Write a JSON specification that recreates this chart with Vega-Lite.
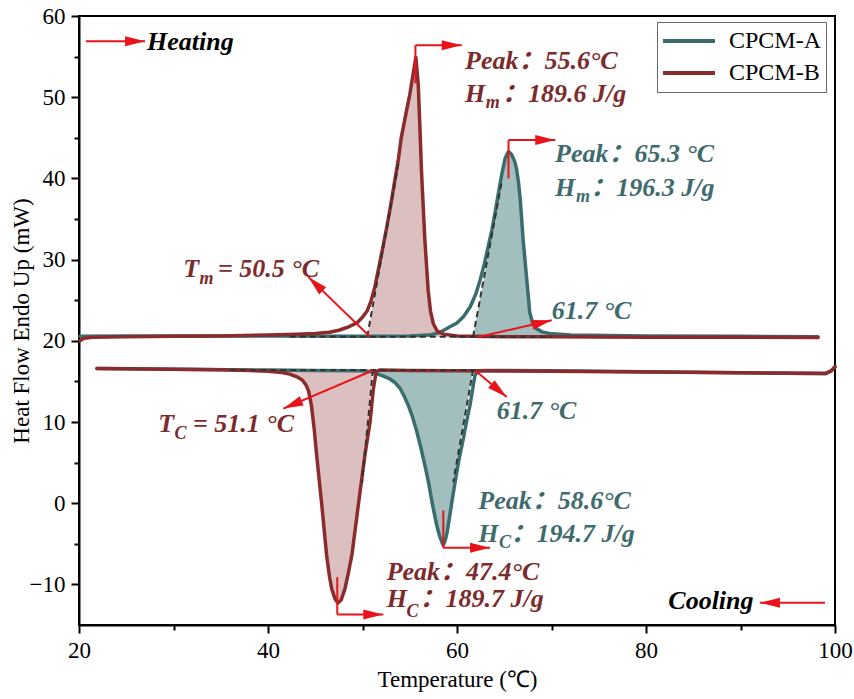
{
  "$schema": "https://vega.github.io/schema/vega-lite/v6.json",
  "width": 756,
  "height": 609,
  "autosize": {"type": "none"},
  "padding": {"left": 79, "top": 16, "right": 19, "bottom": 74},
  "background": "white",
  "config": {
    "view": {"stroke": "black", "strokeWidth": 2},
    "axis": {
      "domainColor": "black", "domainWidth": 2, "tickColor": "black", "tickWidth": 2,
      "labelFont": "Liberation Serif", "labelFontSize": 23, "labelColor": "black",
      "titleFont": "Liberation Serif", "titleFontSize": 23, "titleFontWeight": "normal", "titleColor": "black",
      "grid": false, "labelOverlap": false, "labelFlush": false
    }
  },
  "datasets": {
    "curves": [
      {"s":"CPCM-A","p":"h","x":20.1,"y":20.55},{"s":"CPCM-A","p":"h","x":25,"y":20.6},{"s":"CPCM-A","p":"h","x":30,"y":20.6},{"s":"CPCM-A","p":"h","x":40,"y":20.6},{"s":"CPCM-A","p":"h","x":50,"y":20.55},{"s":"CPCM-A","p":"h","x":55,"y":20.6},{"s":"CPCM-A","p":"h","x":57,"y":20.7},{"s":"CPCM-A","p":"h","x":58,"y":20.95},{"s":"CPCM-A","p":"h","x":58.6,"y":21.3},{"s":"CPCM-A","p":"h","x":59.3,"y":21.75},{"s":"CPCM-A","p":"h","x":60.0,"y":22.2},{"s":"CPCM-A","p":"h","x":60.7,"y":23.0},{"s":"CPCM-A","p":"h","x":61.4,"y":24.2},{"s":"CPCM-A","p":"h","x":62.0,"y":25.8},{"s":"CPCM-A","p":"h","x":62.45,"y":27.5},{"s":"CPCM-A","p":"h","x":62.9,"y":29.5},{"s":"CPCM-A","p":"h","x":63.3,"y":31.6},{"s":"CPCM-A","p":"h","x":63.7,"y":33.7},{"s":"CPCM-A","p":"h","x":64.0,"y":35.6},{"s":"CPCM-A","p":"h","x":64.4,"y":38.3},{"s":"CPCM-A","p":"h","x":64.75,"y":40.6},{"s":"CPCM-A","p":"h","x":65.1,"y":42.5},{"s":"CPCM-A","p":"h","x":65.45,"y":43.3},{"s":"CPCM-A","p":"h","x":65.8,"y":42.9},{"s":"CPCM-A","p":"h","x":66.1,"y":42.1},{"s":"CPCM-A","p":"h","x":66.3,"y":41.2},{"s":"CPCM-A","p":"h","x":66.5,"y":39.6},{"s":"CPCM-A","p":"h","x":66.7,"y":37.3},{"s":"CPCM-A","p":"h","x":67.0,"y":32.4},{"s":"CPCM-A","p":"h","x":67.4,"y":27.3},{"s":"CPCM-A","p":"h","x":67.7,"y":23.5},{"s":"CPCM-A","p":"h","x":68.0,"y":22.2},{"s":"CPCM-A","p":"h","x":68.4,"y":21.5},{"s":"CPCM-A","p":"h","x":69.0,"y":21.1},{"s":"CPCM-A","p":"h","x":69.8,"y":20.9},{"s":"CPCM-A","p":"h","x":72,"y":20.7},{"s":"CPCM-A","p":"h","x":80,"y":20.6},{"s":"CPCM-A","p":"h","x":90,"y":20.55},{"s":"CPCM-A","p":"h","x":98.2,"y":20.5},
      {"s":"CPCM-A","p":"c","x":21.9,"y":16.6},{"s":"CPCM-A","p":"c","x":30,"y":16.5},{"s":"CPCM-A","p":"c","x":40,"y":16.4},{"s":"CPCM-A","p":"c","x":45,"y":16.35},{"s":"CPCM-A","p":"c","x":50,"y":16.3},{"s":"CPCM-A","p":"c","x":51.0,"y":16.2},{"s":"CPCM-A","p":"c","x":51.5,"y":15.95},{"s":"CPCM-A","p":"c","x":52.2,"y":15.65},{"s":"CPCM-A","p":"c","x":52.9,"y":15.3},{"s":"CPCM-A","p":"c","x":53.5,"y":14.8},{"s":"CPCM-A","p":"c","x":54.0,"y":14.1},{"s":"CPCM-A","p":"c","x":54.4,"y":13.2},{"s":"CPCM-A","p":"c","x":54.85,"y":12.05},{"s":"CPCM-A","p":"c","x":55.3,"y":10.6},{"s":"CPCM-A","p":"c","x":55.75,"y":8.8},{"s":"CPCM-A","p":"c","x":56.2,"y":6.7},{"s":"CPCM-A","p":"c","x":56.6,"y":4.7},{"s":"CPCM-A","p":"c","x":57.0,"y":2.5},{"s":"CPCM-A","p":"c","x":57.3,"y":0.5},{"s":"CPCM-A","p":"c","x":57.6,"y":-1.3},{"s":"CPCM-A","p":"c","x":57.85,"y":-2.7},{"s":"CPCM-A","p":"c","x":58.15,"y":-4.0},{"s":"CPCM-A","p":"c","x":58.4,"y":-4.8},{"s":"CPCM-A","p":"c","x":58.55,"y":-5.2},{"s":"CPCM-A","p":"c","x":58.75,"y":-4.6},{"s":"CPCM-A","p":"c","x":58.97,"y":-3.5},{"s":"CPCM-A","p":"c","x":59.2,"y":-1.8},{"s":"CPCM-A","p":"c","x":59.45,"y":0.1},{"s":"CPCM-A","p":"c","x":59.7,"y":1.9},{"s":"CPCM-A","p":"c","x":59.97,"y":3.8},{"s":"CPCM-A","p":"c","x":60.3,"y":5.9},{"s":"CPCM-A","p":"c","x":60.67,"y":7.95},{"s":"CPCM-A","p":"c","x":61.0,"y":10.0},{"s":"CPCM-A","p":"c","x":61.37,"y":12.05},{"s":"CPCM-A","p":"c","x":61.65,"y":14.0},{"s":"CPCM-A","p":"c","x":61.9,"y":15.75},{"s":"CPCM-A","p":"c","x":62.25,"y":16.3},{"s":"CPCM-A","p":"c","x":63,"y":16.35},{"s":"CPCM-A","p":"c","x":70,"y":16.3},{"s":"CPCM-A","p":"c","x":80,"y":16.2},{"s":"CPCM-A","p":"c","x":90,"y":16.05},{"s":"CPCM-A","p":"c","x":99,"y":15.95},{"s":"CPCM-A","p":"c","x":99.6,"y":16.3},{"s":"CPCM-A","p":"c","x":100,"y":16.8},
      {"s":"CPCM-B","p":"h","x":20.1,"y":20.0},{"s":"CPCM-B","p":"h","x":20.5,"y":20.3},{"s":"CPCM-B","p":"h","x":21.5,"y":20.45},{"s":"CPCM-B","p":"h","x":25,"y":20.5},{"s":"CPCM-B","p":"h","x":30,"y":20.55},{"s":"CPCM-B","p":"h","x":35,"y":20.6},{"s":"CPCM-B","p":"h","x":40,"y":20.7},{"s":"CPCM-B","p":"h","x":43,"y":20.8},{"s":"CPCM-B","p":"h","x":45,"y":20.9},{"s":"CPCM-B","p":"h","x":46.5,"y":21.05},{"s":"CPCM-B","p":"h","x":47.5,"y":21.3},{"s":"CPCM-B","p":"h","x":48.5,"y":21.7},{"s":"CPCM-B","p":"h","x":49.4,"y":22.2},{"s":"CPCM-B","p":"h","x":50.0,"y":22.9},{"s":"CPCM-B","p":"h","x":50.5,"y":23.7},{"s":"CPCM-B","p":"h","x":50.9,"y":24.9},{"s":"CPCM-B","p":"h","x":51.3,"y":26.6},{"s":"CPCM-B","p":"h","x":51.7,"y":28.9},{"s":"CPCM-B","p":"h","x":52.1,"y":31.2},{"s":"CPCM-B","p":"h","x":52.6,"y":34.2},{"s":"CPCM-B","p":"h","x":53.0,"y":36.8},{"s":"CPCM-B","p":"h","x":53.4,"y":39.6},{"s":"CPCM-B","p":"h","x":53.8,"y":42.4},{"s":"CPCM-B","p":"h","x":54.1,"y":45.0},{"s":"CPCM-B","p":"h","x":54.6,"y":48.0},{"s":"CPCM-B","p":"h","x":55.0,"y":50.3},{"s":"CPCM-B","p":"h","x":55.35,"y":52.8},{"s":"CPCM-B","p":"h","x":55.65,"y":54.9},{"s":"CPCM-B","p":"h","x":55.9,"y":51.5},{"s":"CPCM-B","p":"h","x":56.1,"y":45.5},{"s":"CPCM-B","p":"h","x":56.25,"y":40.7},{"s":"CPCM-B","p":"h","x":56.6,"y":32.4},{"s":"CPCM-B","p":"h","x":56.95,"y":26.2},{"s":"CPCM-B","p":"h","x":57.2,"y":23.6},{"s":"CPCM-B","p":"h","x":57.5,"y":22.1},{"s":"CPCM-B","p":"h","x":57.9,"y":21.2},{"s":"CPCM-B","p":"h","x":58.6,"y":20.8},{"s":"CPCM-B","p":"h","x":60,"y":20.6},{"s":"CPCM-B","p":"h","x":65,"y":20.5},{"s":"CPCM-B","p":"h","x":70,"y":20.5},{"s":"CPCM-B","p":"h","x":80,"y":20.45},{"s":"CPCM-B","p":"h","x":90,"y":20.45},{"s":"CPCM-B","p":"h","x":98.2,"y":20.4},
      {"s":"CPCM-B","p":"c","x":21.9,"y":16.6},{"s":"CPCM-B","p":"c","x":25,"y":16.55},{"s":"CPCM-B","p":"c","x":30,"y":16.5},{"s":"CPCM-B","p":"c","x":35,"y":16.45},{"s":"CPCM-B","p":"c","x":38,"y":16.35},{"s":"CPCM-B","p":"c","x":40,"y":16.25},{"s":"CPCM-B","p":"c","x":41.5,"y":16.1},{"s":"CPCM-B","p":"c","x":42.3,"y":15.9},{"s":"CPCM-B","p":"c","x":43.0,"y":15.6},{"s":"CPCM-B","p":"c","x":43.6,"y":15.2},{"s":"CPCM-B","p":"c","x":44.0,"y":14.6},{"s":"CPCM-B","p":"c","x":44.3,"y":13.8},{"s":"CPCM-B","p":"c","x":44.6,"y":12.0},{"s":"CPCM-B","p":"c","x":44.9,"y":9.0},{"s":"CPCM-B","p":"c","x":45.15,"y":5.9},{"s":"CPCM-B","p":"c","x":45.7,"y":-0.3},{"s":"CPCM-B","p":"c","x":46.2,"y":-6.4},{"s":"CPCM-B","p":"c","x":46.5,"y":-9.0},{"s":"CPCM-B","p":"c","x":46.75,"y":-10.6},{"s":"CPCM-B","p":"c","x":47.1,"y":-11.8},{"s":"CPCM-B","p":"c","x":47.4,"y":-12.3},{"s":"CPCM-B","p":"c","x":47.75,"y":-11.9},{"s":"CPCM-B","p":"c","x":48.15,"y":-10.5},{"s":"CPCM-B","p":"c","x":48.5,"y":-8.6},{"s":"CPCM-B","p":"c","x":48.9,"y":-6.2},{"s":"CPCM-B","p":"c","x":49.55,"y":-0.3},{"s":"CPCM-B","p":"c","x":50.25,"y":5.9},{"s":"CPCM-B","p":"c","x":50.8,"y":10.0},{"s":"CPCM-B","p":"c","x":51.15,"y":14.1},{"s":"CPCM-B","p":"c","x":51.45,"y":16.2},{"s":"CPCM-B","p":"c","x":51.8,"y":16.4},{"s":"CPCM-B","p":"c","x":55,"y":16.35},{"s":"CPCM-B","p":"c","x":60,"y":16.3},{"s":"CPCM-B","p":"c","x":70,"y":16.25},{"s":"CPCM-B","p":"c","x":80,"y":16.15},{"s":"CPCM-B","p":"c","x":90,"y":16.05},{"s":"CPCM-B","p":"c","x":99,"y":16.0},{"s":"CPCM-B","p":"c","x":99.6,"y":16.3},{"s":"CPCM-B","p":"c","x":100,"y":16.8}
    ],
    "fills": [
      {"s":"CPCM-B","p":"h","x":50.5,"lo":20.5,"hi":20.5},{"s":"CPCM-B","p":"h","x":51.0,"lo":20.5,"hi":23.7},{"s":"CPCM-B","p":"h","x":51.5,"lo":20.5,"hi":26.9},{"s":"CPCM-B","p":"h","x":52.0,"lo":20.5,"hi":30.2},{"s":"CPCM-B","p":"h","x":52.5,"lo":20.5,"hi":33.4},{"s":"CPCM-B","p":"h","x":53.0,"lo":20.5,"hi":36.6},{"s":"CPCM-B","p":"h","x":53.4,"lo":20.5,"hi":39.2},{"s":"CPCM-B","p":"h","x":53.8,"lo":20.5,"hi":41.8},{"s":"CPCM-B","p":"h","x":54.1,"lo":20.5,"hi":45.0},{"s":"CPCM-B","p":"h","x":54.6,"lo":20.5,"hi":48.0},{"s":"CPCM-B","p":"h","x":55.0,"lo":20.5,"hi":50.3},{"s":"CPCM-B","p":"h","x":55.35,"lo":20.5,"hi":52.8},{"s":"CPCM-B","p":"h","x":55.65,"lo":20.5,"hi":54.9},{"s":"CPCM-B","p":"h","x":55.9,"lo":20.5,"hi":51.5},{"s":"CPCM-B","p":"h","x":56.1,"lo":20.5,"hi":45.5},{"s":"CPCM-B","p":"h","x":56.25,"lo":20.5,"hi":40.7},{"s":"CPCM-B","p":"h","x":56.6,"lo":20.5,"hi":32.4},{"s":"CPCM-B","p":"h","x":56.95,"lo":20.5,"hi":26.2},{"s":"CPCM-B","p":"h","x":57.2,"lo":20.5,"hi":23.6},{"s":"CPCM-B","p":"h","x":57.5,"lo":20.5,"hi":22.1},{"s":"CPCM-B","p":"h","x":57.9,"lo":20.5,"hi":21.2},{"s":"CPCM-B","p":"h","x":58.6,"lo":20.5,"hi":20.8},
      {"s":"CPCM-A","p":"h","x":61.7,"lo":20.5,"hi":20.5},{"s":"CPCM-A","p":"h","x":62.2,"lo":20.5,"hi":23.65},{"s":"CPCM-A","p":"h","x":62.7,"lo":20.5,"hi":26.8},{"s":"CPCM-A","p":"h","x":63.2,"lo":20.5,"hi":29.95},{"s":"CPCM-A","p":"h","x":63.7,"lo":20.5,"hi":33.1},{"s":"CPCM-A","p":"h","x":64.2,"lo":20.5,"hi":36.25},{"s":"CPCM-A","p":"h","x":64.7,"lo":20.5,"hi":39.4},{"s":"CPCM-A","p":"h","x":65.1,"lo":20.5,"hi":42.5},{"s":"CPCM-A","p":"h","x":65.45,"lo":20.5,"hi":43.3},{"s":"CPCM-A","p":"h","x":65.8,"lo":20.5,"hi":42.9},{"s":"CPCM-A","p":"h","x":66.1,"lo":20.5,"hi":42.1},{"s":"CPCM-A","p":"h","x":66.3,"lo":20.5,"hi":41.2},{"s":"CPCM-A","p":"h","x":66.5,"lo":20.5,"hi":39.6},{"s":"CPCM-A","p":"h","x":66.7,"lo":20.5,"hi":37.3},{"s":"CPCM-A","p":"h","x":67.0,"lo":20.5,"hi":32.4},{"s":"CPCM-A","p":"h","x":67.4,"lo":20.5,"hi":27.3},{"s":"CPCM-A","p":"h","x":67.7,"lo":20.5,"hi":23.5},{"s":"CPCM-A","p":"h","x":68.0,"lo":20.5,"hi":22.2},{"s":"CPCM-A","p":"h","x":68.4,"lo":20.5,"hi":21.5},{"s":"CPCM-A","p":"h","x":69.0,"lo":20.5,"hi":21.1},{"s":"CPCM-A","p":"h","x":69.8,"lo":20.5,"hi":20.9},
      {"s":"CPCM-B","p":"c","x":42.3,"lo":15.9,"hi":16.4},{"s":"CPCM-B","p":"c","x":43.0,"lo":15.6,"hi":16.4},{"s":"CPCM-B","p":"c","x":43.6,"lo":15.2,"hi":16.4},{"s":"CPCM-B","p":"c","x":44.0,"lo":14.6,"hi":16.4},{"s":"CPCM-B","p":"c","x":44.3,"lo":13.8,"hi":16.4},{"s":"CPCM-B","p":"c","x":44.6,"lo":12.0,"hi":16.4},{"s":"CPCM-B","p":"c","x":44.9,"lo":9.0,"hi":16.4},{"s":"CPCM-B","p":"c","x":45.15,"lo":5.9,"hi":16.4},{"s":"CPCM-B","p":"c","x":45.7,"lo":-0.3,"hi":16.4},{"s":"CPCM-B","p":"c","x":46.2,"lo":-6.4,"hi":16.4},{"s":"CPCM-B","p":"c","x":46.5,"lo":-9.0,"hi":16.4},{"s":"CPCM-B","p":"c","x":46.75,"lo":-10.6,"hi":16.4},{"s":"CPCM-B","p":"c","x":47.1,"lo":-11.8,"hi":16.4},{"s":"CPCM-B","p":"c","x":47.4,"lo":-12.3,"hi":16.4},{"s":"CPCM-B","p":"c","x":47.75,"lo":-11.9,"hi":16.4},{"s":"CPCM-B","p":"c","x":48.15,"lo":-10.5,"hi":16.4},{"s":"CPCM-B","p":"c","x":48.5,"lo":-8.6,"hi":16.4},{"s":"CPCM-B","p":"c","x":48.9,"lo":-6.2,"hi":16.4},{"s":"CPCM-B","p":"c","x":49.55,"lo":-0.3,"hi":16.4},{"s":"CPCM-B","p":"c","x":49.95,"lo":3.1,"hi":16.4},{"s":"CPCM-B","p":"c","x":50.25,"lo":6.3,"hi":16.4},{"s":"CPCM-B","p":"c","x":50.5,"lo":9.15,"hi":16.4},{"s":"CPCM-B","p":"c","x":50.8,"lo":12.8,"hi":16.4},{"s":"CPCM-B","p":"c","x":51.1,"lo":16.4,"hi":16.4},
      {"s":"CPCM-A","p":"c","x":51.3,"lo":16.1,"hi":16.4},{"s":"CPCM-A","p":"c","x":51.5,"lo":15.95,"hi":16.4},{"s":"CPCM-A","p":"c","x":52.2,"lo":15.65,"hi":16.4},{"s":"CPCM-A","p":"c","x":52.9,"lo":15.3,"hi":16.4},{"s":"CPCM-A","p":"c","x":53.5,"lo":14.8,"hi":16.4},{"s":"CPCM-A","p":"c","x":54.0,"lo":14.1,"hi":16.4},{"s":"CPCM-A","p":"c","x":54.4,"lo":13.2,"hi":16.4},{"s":"CPCM-A","p":"c","x":54.85,"lo":12.05,"hi":16.4},{"s":"CPCM-A","p":"c","x":55.3,"lo":10.6,"hi":16.4},{"s":"CPCM-A","p":"c","x":55.75,"lo":8.8,"hi":16.4},{"s":"CPCM-A","p":"c","x":56.2,"lo":6.7,"hi":16.4},{"s":"CPCM-A","p":"c","x":56.6,"lo":4.7,"hi":16.4},{"s":"CPCM-A","p":"c","x":57.0,"lo":2.5,"hi":16.4},{"s":"CPCM-A","p":"c","x":57.3,"lo":0.5,"hi":16.4},{"s":"CPCM-A","p":"c","x":57.6,"lo":-1.3,"hi":16.4},{"s":"CPCM-A","p":"c","x":57.85,"lo":-2.7,"hi":16.4},{"s":"CPCM-A","p":"c","x":58.15,"lo":-4.0,"hi":16.4},{"s":"CPCM-A","p":"c","x":58.4,"lo":-4.8,"hi":16.4},{"s":"CPCM-A","p":"c","x":58.55,"lo":-5.2,"hi":16.4},{"s":"CPCM-A","p":"c","x":58.75,"lo":-4.6,"hi":16.4},{"s":"CPCM-A","p":"c","x":58.97,"lo":-3.5,"hi":16.4},{"s":"CPCM-A","p":"c","x":59.2,"lo":-1.8,"hi":16.4},{"s":"CPCM-A","p":"c","x":59.45,"lo":0.1,"hi":16.4},{"s":"CPCM-A","p":"c","x":59.6,"lo":2.6,"hi":16.4},{"s":"CPCM-A","p":"c","x":60.0,"lo":5.2,"hi":16.4},{"s":"CPCM-A","p":"c","x":60.5,"lo":8.5,"hi":16.4},{"s":"CPCM-A","p":"c","x":61.0,"lo":11.8,"hi":16.4},{"s":"CPCM-A","p":"c","x":61.4,"lo":14.4,"hi":16.4},{"s":"CPCM-A","p":"c","x":61.7,"lo":16.4,"hi":16.4}
    ],
    "dashes": [
      {"x":42.3,"y":20.5,"x2":70,"y2":20.5},
      {"x":36,"y":16.4,"x2":62.3,"y2":16.4},
      {"x":50.5,"y":20.5,"x2":53.8,"y2":41.8},
      {"x":61.7,"y":20.5,"x2":64.7,"y2":39.4},
      {"x":51.1,"y":16.4,"x2":49.95,"y2":2.5},
      {"x":61.7,"y":16.4,"x2":59.6,"y2":2.6}
    ],
    "arrows": [
      {"id":"heat","x":20.74,"y":56.9,"x2":27.0,"y2":56.9,"head":true},
      {"id":"pkBh","x":55.6,"y":51.7,"x2":55.6,"y2":56.4,"head":false},
      {"id":"pkBh","x":55.6,"y":56.4,"x2":60.5,"y2":56.4,"head":true},
      {"id":"pkAh","x":65.45,"y":40.0,"x2":65.45,"y2":44.72,"head":false},
      {"id":"pkAh","x":65.45,"y":44.72,"x2":70.4,"y2":44.72,"head":true},
      {"id":"Tm","x":50.8,"y":20.5,"x2":44.26,"y2":27.87,"head":true},
      {"id":"A61h","x":62.26,"y":20.48,"x2":70.02,"y2":22.53,"head":true},
      {"id":"Tc","x":51.14,"y":16.37,"x2":41.62,"y2":11.65,"head":true},
      {"id":"A61c","x":61.9,"y":16.37,"x2":65.26,"y2":13.08,"head":true},
      {"id":"pkAc","x":58.55,"y":-0.88,"x2":58.55,"y2":-5.48,"head":false},
      {"id":"pkAc","x":58.55,"y":-5.48,"x2":63.5,"y2":-5.48,"head":true},
      {"id":"pkBc","x":47.33,"y":-9.1,"x2":47.33,"y2":-13.7,"head":false},
      {"id":"pkBc","x":47.33,"y":-13.7,"x2":52.2,"y2":-13.7,"head":true},
      {"id":"cool","x":98.94,"y":-12.25,"x2":92.06,"y2":-12.25,"head":true}
    ],
    "texts": [
      {"t":"Heating","x":27.2,"y":55.81,"s":"none","sub":false},
      {"t":"Cooling","x":82.36,"y":-13.0,"s":"none","sub":false},
      {"t":"Peak：55.6°C","x":60.85,"y":53.47,"s":"CPCM-B","sub":false},
      {"t":"H","x":60.85,"y":49.44,"s":"CPCM-B","sub":false},
      {"t":"m","x":63.05,"y":48.62,"s":"CPCM-B","sub":true},
      {"t":"：189.6 J/g","x":64.76,"y":49.44,"s":"CPCM-B","sub":false},
      {"t":"T","x":31.04,"y":27.87,"s":"CPCM-B","sub":false},
      {"t":"m","x":32.75,"y":27.0,"s":"CPCM-B","sub":true},
      {"t":"= 50.5 °C","x":34.71,"y":27.87,"s":"CPCM-B","sub":false},
      {"t":"T","x":28.39,"y":8.77,"s":"CPCM-B","sub":false},
      {"t":"C","x":30.1,"y":7.95,"s":"CPCM-B","sub":true},
      {"t":"= 51.1 °C","x":32.06,"y":8.77,"s":"CPCM-B","sub":false},
      {"t":"Peak：47.4°C","x":52.56,"y":-9.51,"s":"CPCM-B","sub":false},
      {"t":"H","x":52.56,"y":-12.8,"s":"CPCM-B","sub":false},
      {"t":"C","x":54.66,"y":-14.03,"s":"CPCM-B","sub":true},
      {"t":"：189.7 J/g","x":56.03,"y":-12.8,"s":"CPCM-B","sub":false},
      {"t":"Peak：65.3 °C","x":70.37,"y":42.05,"s":"CPCM-A","sub":false},
      {"t":"H","x":70.37,"y":37.85,"s":"CPCM-A","sub":false},
      {"t":"m","x":72.6,"y":37.04,"s":"CPCM-A","sub":true},
      {"t":"：196.3 J/g","x":74.1,"y":37.85,"s":"CPCM-A","sub":false},
      {"t":"61.7 °C","x":70.02,"y":22.74,"s":"CPCM-A","sub":false},
      {"t":"61.7 °C","x":64.2,"y":10.42,"s":"CPCM-A","sub":false},
      {"t":"Peak：58.6°C","x":62.25,"y":-0.67,"s":"CPCM-A","sub":false},
      {"t":"H","x":62.25,"y":-4.79,"s":"CPCM-A","sub":false},
      {"t":"C","x":64.44,"y":-5.48,"s":"CPCM-A","sub":true},
      {"t":"：194.7 J/g","x":65.66,"y":-4.79,"s":"CPCM-A","sub":false}
    ]
  },
  "encoding": {
    "x": {"type": "quantitative", "scale": {"domain": [20, 100], "nice": false, "zero": false},
      "axis": {"title": "Temperature (℃)", "values": [20,30,40,50,60,70,80,90,100],
        "labelExpr": "datum.value % 20 === 0 ? datum.label : ''",
        "tickSize": {"condition": {"test": "datum.value % 20 === 0", "value": 8}, "value": 5},
        "labelPadding": 6, "titlePadding": 6}},
    "y": {"type": "quantitative", "scale": {"domain": [-15, 60], "nice": false, "zero": false},
      "axis": {"title": "Heat Flow Endo Up (mW)", "values": [-10,-5,0,5,10,15,20,25,30,35,40,45,50,55,60],
        "labelExpr": "datum.value % 10 === 0 ? datum.label : ''",
        "tickSize": {"condition": {"test": "datum.value % 10 === 0", "value": 8}, "value": 5},
        "labelPadding": 6, "titlePadding": -4}}
  },
  "layer": [
    {"data": {"name": "fills"}, "transform": [{"filter": "datum.s === 'CPCM-B'"}],
     "mark": {"type": "area", "color": "#dcc0c0", "opacity": 1},
     "encoding": {"x": {"field": "x", "type": "quantitative"}, "y": {"field": "lo", "type": "quantitative"}, "y2": {"field": "hi"}, "detail": {"field": "p"}}},
    {"data": {"name": "fills"}, "transform": [{"filter": "datum.s === 'CPCM-A'"}],
     "mark": {"type": "area", "color": "#a3bebe", "opacity": 1},
     "encoding": {"x": {"field": "x", "type": "quantitative"}, "y": {"field": "lo", "type": "quantitative"}, "y2": {"field": "hi"}, "detail": {"field": "p"}}},
    {"data": {"name": "curves"},
     "mark": {"type": "line", "strokeWidth": 3.5, "strokeJoin": "round", "strokeCap": "round"},
     "encoding": {"x": {"field": "x", "type": "quantitative"}, "y": {"field": "y", "type": "quantitative"},
       "detail": {"field": "p"},
       "color": {"field": "s", "type": "nominal",
         "scale": {"domain": ["CPCM-A", "CPCM-B"], "range": ["#3a6d6e", "#8b2b2c"]},
         "legend": {"orient": "none", "legendX": 578, "legendY": 6, "title": null,
           "symbolType": "stroke", "symbolStrokeWidth": 4, "symbolSize": 2700, "clipHeight": 30,
           "labelFont": "Liberation Serif", "labelFontSize": 24, "labelColor": "black",
           "strokeColor": "#666", "fillColor": "white", "padding": 4, "rowPadding": 2, "labelOffset": 12}}}},
    {"data": {"name": "dashes"},
     "mark": {"type": "rule", "color": "#333333", "strokeWidth": 2, "strokeDash": [6, 4]},
     "encoding": {"x": {"field": "x", "type": "quantitative"}, "y": {"field": "y", "type": "quantitative"}, "x2": {"field": "x2"}, "y2": {"field": "y2"}}},
    {"data": {"name": "arrows"},
     "mark": {"type": "rule", "color": "#e8141a", "strokeWidth": 2},
     "encoding": {"x": {"field": "x", "type": "quantitative"}, "y": {"field": "y", "type": "quantitative"}, "x2": {"field": "x2"}, "y2": {"field": "y2"}}},
    {"data": {"name": "arrows"}, "transform": [{"filter": "datum.head && (datum.id === 'heat' || datum.id === 'pkBh' || datum.id === 'pkAh' || datum.id === 'pkAc' || datum.id === 'pkBc')"}],
     "mark": {"type": "point", "shape": "M 0 0 L -2 -0.5 L -2 0.5 Z", "filled": true, "size": 400, "color": "#e8141a", "opacity": 1, "angle": 0},
     "encoding": {"x": {"field": "x2", "type": "quantitative"}, "y": {"field": "y2", "type": "quantitative"}}},
    {"data": {"name": "arrows"}, "transform": [{"filter": "datum.id === 'cool'"}],
     "mark": {"type": "point", "shape": "M 0 0 L -2 -0.5 L -2 0.5 Z", "filled": true, "size": 400, "color": "#e8141a", "opacity": 1, "angle": 180},
     "encoding": {"x": {"field": "x2", "type": "quantitative"}, "y": {"field": "y2", "type": "quantitative"}}},
    {"data": {"name": "arrows"}, "transform": [{"filter": "datum.id === 'Tm'"}],
     "mark": {"type": "point", "shape": "M 0 0 L -2 -0.5 L -2 0.5 Z", "filled": true, "size": 400, "color": "#e8141a", "opacity": 1, "angle": 224},
     "encoding": {"x": {"field": "x2", "type": "quantitative"}, "y": {"field": "y2", "type": "quantitative"}}},
    {"data": {"name": "arrows"}, "transform": [{"filter": "datum.id === 'A61h'"}],
     "mark": {"type": "point", "shape": "M 0 0 L -2 -0.5 L -2 0.5 Z", "filled": true, "size": 400, "color": "#e8141a", "opacity": 1, "angle": 347},
     "encoding": {"x": {"field": "x2", "type": "quantitative"}, "y": {"field": "y2", "type": "quantitative"}}},
    {"data": {"name": "arrows"}, "transform": [{"filter": "datum.id === 'Tc'"}],
     "mark": {"type": "point", "shape": "M 0 0 L -2 -0.5 L -2 0.5 Z", "filled": true, "size": 400, "color": "#e8141a", "opacity": 1, "angle": 157},
     "encoding": {"x": {"field": "x2", "type": "quantitative"}, "y": {"field": "y2", "type": "quantitative"}}},
    {"data": {"name": "arrows"}, "transform": [{"filter": "datum.id === 'A61c'"}],
     "mark": {"type": "point", "shape": "M 0 0 L -2 -0.5 L -2 0.5 Z", "filled": true, "size": 400, "color": "#e8141a", "opacity": 1, "angle": 40},
     "encoding": {"x": {"field": "x2", "type": "quantitative"}, "y": {"field": "y2", "type": "quantitative"}}},
    {"data": {"name": "texts"}, "transform": [{"filter": "datum.s === 'none'"}],
     "mark": {"type": "text", "align": "left", "baseline": "alphabetic", "font": "Liberation Serif", "fontSize": 26, "fontWeight": "bold", "fontStyle": "italic", "color": "black"},
     "encoding": {"x": {"field": "x", "type": "quantitative"}, "y": {"field": "y", "type": "quantitative"}, "text": {"field": "t"}}},
    {"data": {"name": "texts"}, "transform": [{"filter": "datum.s === 'CPCM-B' && !datum.sub"}],
     "mark": {"type": "text", "align": "left", "baseline": "alphabetic", "font": "Liberation Serif, Noto Sans CJK SC", "fontSize": 26, "fontWeight": "bold", "fontStyle": "italic", "color": "#7d2a2c"},
     "encoding": {"x": {"field": "x", "type": "quantitative"}, "y": {"field": "y", "type": "quantitative"}, "text": {"field": "t"}}},
    {"data": {"name": "texts"}, "transform": [{"filter": "datum.s === 'CPCM-B' && datum.sub"}],
     "mark": {"type": "text", "align": "left", "baseline": "alphabetic", "font": "Liberation Serif", "fontSize": 18, "fontWeight": "bold", "fontStyle": "italic", "color": "#7d2a2c"},
     "encoding": {"x": {"field": "x", "type": "quantitative"}, "y": {"field": "y", "type": "quantitative"}, "text": {"field": "t"}}},
    {"data": {"name": "texts"}, "transform": [{"filter": "datum.s === 'CPCM-A' && !datum.sub"}],
     "mark": {"type": "text", "align": "left", "baseline": "alphabetic", "font": "Liberation Serif, Noto Sans CJK SC", "fontSize": 26, "fontWeight": "bold", "fontStyle": "italic", "color": "#3e6b6c"},
     "encoding": {"x": {"field": "x", "type": "quantitative"}, "y": {"field": "y", "type": "quantitative"}, "text": {"field": "t"}}},
    {"data": {"name": "texts"}, "transform": [{"filter": "datum.s === 'CPCM-A' && datum.sub"}],
     "mark": {"type": "text", "align": "left", "baseline": "alphabetic", "font": "Liberation Serif", "fontSize": 18, "fontWeight": "bold", "fontStyle": "italic", "color": "#3e6b6c"},
     "encoding": {"x": {"field": "x", "type": "quantitative"}, "y": {"field": "y", "type": "quantitative"}, "text": {"field": "t"}}}
  ]
}
